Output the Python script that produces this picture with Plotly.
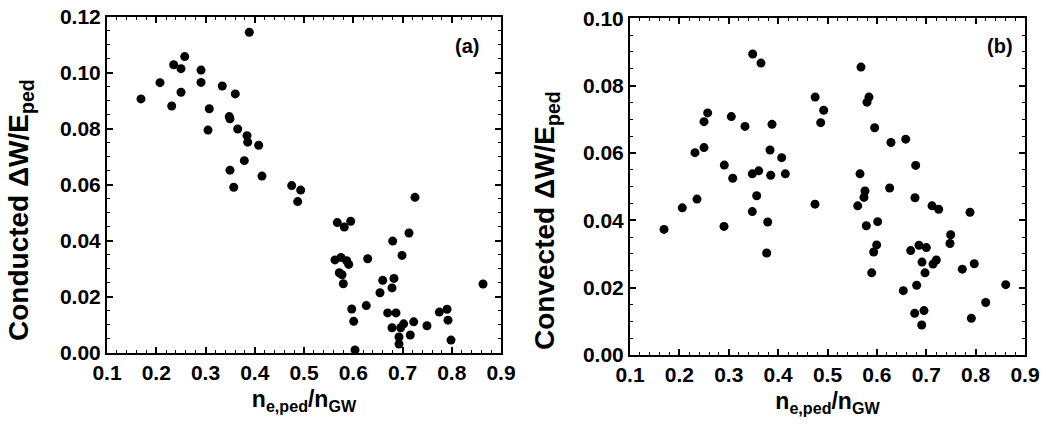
import plotly.graph_objects as go

# Panel (a): conducted
a_x = [0.169, 0.2076, 0.2314, 0.2354, 0.2503, 0.2503, 0.2578, 0.2909, 0.2909, 0.3077,
       0.3051, 0.3341, 0.3605, 0.3483, 0.3497, 0.3654, 0.3843, 0.3857, 0.4080, 0.3889,
       0.3788, 0.3497, 0.4147, 0.3573, 0.4750, 0.4933, 0.4872, 0.5676, 0.5818, 0.5948,
       0.5629, 0.5751, 0.5867, 0.5908, 0.5717, 0.5772, 0.5798, 0.6293, 0.5969, 0.6009,
       0.6265, 0.6036, 0.7254, 0.7132, 0.6801, 0.6990, 0.6598, 0.6827, 0.6787, 0.6543,
       0.6699, 0.6868, 0.6787, 0.6963, 0.7024, 0.6929, 0.6929, 0.7158, 0.7227, 0.7497,
       0.7747, 0.7904, 0.7924, 0.7985, 0.8635]
a_y = [0.0906, 0.0964, 0.0881, 0.1028, 0.1014, 0.0930, 0.1057, 0.1009, 0.0965, 0.0871,
       0.0795, 0.0952, 0.0924, 0.0843, 0.0835, 0.0799, 0.0775, 0.0752, 0.0741, 0.1144,
       0.0686, 0.0652, 0.0631, 0.0591, 0.0597, 0.0581, 0.0540, 0.0465, 0.0449, 0.0470,
       0.0332, 0.0341, 0.0329, 0.0316, 0.0286, 0.0279, 0.0247, 0.0336, 0.0157, 0.0113,
       0.0169, 0.0011, 0.0555, 0.0428, 0.0399, 0.0348, 0.0259, 0.0266, 0.0232, 0.0215,
       0.0143, 0.0143, 0.0090, 0.0090, 0.0104, 0.0057, 0.0032, 0.0064, 0.0111, 0.0097,
       0.0146, 0.0156, 0.0117, 0.0046, 0.0246]

# Panel (b): convected
b_x = [0.2316, 0.2499, 0.2499, 0.2573, 0.2910, 0.3052, 0.3080, 0.3329, 0.3485, 0.3653,
       0.3477, 0.3607, 0.3850, 0.3876, 0.3836, 0.4072, 0.4146, 0.3566, 0.2059, 0.2357,
       0.1689, 0.2904, 0.3477, 0.3789, 0.3768, 0.4747, 0.4750, 0.4923, 0.4862, 0.5678,
       0.5840, 0.5800, 0.5955, 0.6286, 0.6584, 0.5658, 0.6786, 0.5759, 0.5739, 0.6259,
       0.5612, 0.6772, 0.7117, 0.7252, 0.7886, 0.5786, 0.6016, 0.7495, 0.7481, 0.5996,
       0.5935, 0.6685, 0.6853, 0.7002, 0.6914, 0.7137, 0.7204, 0.6975, 0.5895, 0.7730,
       0.7973, 0.6535, 0.6806, 0.8610, 0.8204, 0.6766, 0.6954, 0.7913, 0.6908]
b_y = [0.0601, 0.0616, 0.0693, 0.0719, 0.0564, 0.0708, 0.0525, 0.0679, 0.0894, 0.0867,
       0.0538, 0.0547, 0.0534, 0.0685, 0.0609, 0.0586, 0.0538, 0.0473, 0.0437, 0.0463,
       0.0373, 0.0382, 0.0426, 0.0395, 0.0303, 0.0448, 0.0766, 0.0727, 0.0690, 0.0855,
       0.0766, 0.0751, 0.0675, 0.0631, 0.0641, 0.0538, 0.0563, 0.0487, 0.0468, 0.0496,
       0.0443, 0.0467, 0.0443, 0.0433, 0.0424, 0.0384, 0.0396, 0.0357, 0.0331, 0.0327,
       0.0306, 0.0310, 0.0326, 0.0319, 0.0276, 0.0270, 0.0282, 0.0244, 0.0244, 0.0255,
       0.0271, 0.0191, 0.0207, 0.0209, 0.0156, 0.0124, 0.0132, 0.0109, 0.0089]

x_title = "n<sub>e,ped</sub>/n<sub>GW</sub>"
ya_title = "Conducted ΔW/E<sub>ped</sub>"
yb_title = "Convected ΔW/E<sub>ped</sub>"
panel_labels = ["(a)", "(b)"]

FONT = "Liberation Sans, Arial, sans-serif"
W, H = 1046, 432

fig = go.Figure()
mk = dict(color="black", size=9, symbol="circle")
fig.add_trace(go.Scatter(x=a_x, y=a_y, mode="markers", marker=mk, xaxis="x", yaxis="y", showlegend=False))
fig.add_trace(go.Scatter(x=b_x, y=b_y, mode="markers", marker=mk, xaxis="x2", yaxis="y2", showlegend=False))

tickfont = dict(family=FONT, size=21, color="black", weight="bold")
xtitlefont = dict(family=FONT, size=23, color="black", weight="bold")
ytitlefont = dict(family=FONT, size=28, color="black", weight="bold")
labelfont = dict(family=FONT, size=20, color="black", weight="bold")

def xax(domain, anchor):
    return dict(domain=domain, anchor=anchor, range=[0.1, 0.9], dtick=0.1, tick0=0.1,
                tickformat=".1f", ticks="inside", ticklen=6, tickwidth=1.5, tickcolor="black",
                minor=dict(ticks="inside", ticklen=3, dtick=0.02, tickwidth=1, tickcolor="black"),
                showline=True, linewidth=2, linecolor="black", mirror="ticks",
                showgrid=False, zeroline=False, tickfont=tickfont, automargin=False,
                title=dict(text=x_title, font=xtitlefont, standoff=8))

def yax(domain, anchor, rng):
    return dict(domain=domain, anchor=anchor, range=rng, dtick=0.02, tick0=0,
                tickformat=".2f", ticks="inside", ticklen=6, tickwidth=1.5, tickcolor="black",
                minor=dict(ticks="inside", ticklen=3, dtick=0.005, tickwidth=1, tickcolor="black"),
                showline=True, linewidth=2, linecolor="black", mirror="ticks",
                showgrid=False, zeroline=False, tickfont=tickfont, automargin=False)

fig.update_layout(
    width=W, height=H,
    margin=dict(l=0, r=0, t=0, b=0),
    paper_bgcolor="white", plot_bgcolor="white",
    xaxis=xax([107 / W, 501 / W], "y"),
    yaxis=yax([(H - 353) / H, (H - 16.5) / H], "x", [0, 0.12]),
    xaxis2=xax([630 / W, 1025 / W], "y2"),
    yaxis2=yax([(H - 355) / H, (H - 18.3) / H], "x2", [0, 0.10]),
    annotations=[
        dict(text=ya_title, xref="paper", yref="paper", x=20 / W, y=(H - 210) / H,
             xanchor="center", yanchor="middle", textangle=-90, showarrow=False, font=ytitlefont),
        dict(text=yb_title, xref="paper", yref="paper", x=546 / W, y=(H - 221) / H,
             xanchor="center", yanchor="middle", textangle=-90, showarrow=False, font=ytitlefont),
        dict(text=panel_labels[0], xref="x domain", yref="y domain", x=0.914, y=0.912,
             xanchor="center", yanchor="middle", showarrow=False, font=labelfont),
        dict(text=panel_labels[1], xref="x2 domain", yref="y2 domain", x=0.937, y=0.918,
             xanchor="center", yanchor="middle", showarrow=False, font=labelfont),
    ],
)

fig.write_html("out.html", config={"displayModeBar": False},
               post_script="document.body.style.margin='0px';")
